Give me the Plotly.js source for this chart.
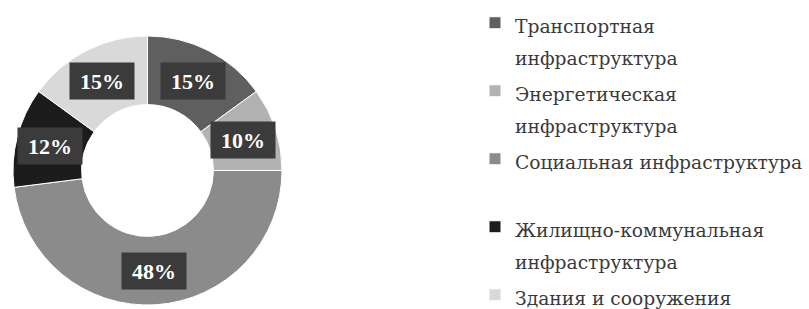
<!DOCTYPE html>
<html>
<head>
<meta charset="utf-8">
<script src="https://cdn.plot.ly/plotly-3.0.1.min.js"></script>
<style>html,body{margin:0;padding:0;background:#fff;}#chart{width:809px;height:309px;}</style>
</head>
<body>
<div id="chart"></div>
<script>
// ---- data ----
const categories = [
  "Транспортная инфраструктура",
  "Энергетическая инфраструктура",
  "Социальная инфраструктура",
  "Жилищно-коммунальная инфраструктура",
  "Здания и сооружения"
];
// legend text lines as wrapped in the original
const legendLines = [
  ["Транспортная", "инфраструктура"],
  ["Энергетическая", "инфраструктура"],
  ["Социальная инфраструктура", " "],
  ["Жилищно-коммунальная", "инфраструктура"],
  ["Здания и сооружения"]
];
const shares = [15, 10, 48, 12, 15];
const colors = ["#5f5f5f", "#b2b2b2", "#8b8b8b", "#1c1c1c", "#d9d9d9"];

// ---- layout constants ----
const W = 809, H = 309;
const domain = {x: [12 / W, 283 / W], y: [4 / H, 273 / H]};
const hole = 0.49;

const legendLabels = legendLines.map(lines =>
  lines.map(l => '<span style="font-size:18.7px">' + l + '</span>').join('<br>'));

// label annotations placed at slice mid-angles (computed from the data)
const total = shares.reduce((a, b) => a + b, 0);
const dW = (domain.x[1] - domain.x[0]) * W, dH = (domain.y[1] - domain.y[0]) * H;
const R = Math.min(dW, dH) / 2;
const cx = (domain.x[0] + domain.x[1]) / 2 * W;
const cy = (1 - (domain.y[0] + domain.y[1]) / 2) * H;
const rl = R * (1 + hole) / 2;
let cum = 0;
const annotations = shares.map((v, i) => {
  const a = (cum + v / 2) / total * 2 * Math.PI;
  cum += v;
  const px = cx + rl * Math.sin(a), py = cy - rl * Math.cos(a);
  return {
    xref: 'paper', yref: 'paper', x: px / W, y: 1 - py / H,
    xanchor: 'center', yanchor: 'middle', showarrow: false,
    text: '<b>' + v + '%</b>',
    font: {family: 'Liberation Serif', size: 22, color: '#ffffff'},
    bgcolor: '#3b3b3b', width: 56, height: 28, borderpad: 4
  };
});

const trace = {
  type: 'pie',
  labels: legendLabels,
  values: shares,
  sort: false,
  direction: 'clockwise',
  rotation: 0,
  hole: hole,
  domain: domain,
  textinfo: 'none',
  hoverinfo: 'none',
  marker: {colors: colors, line: {color: '#ffffff', width: 1}}
};

const layout = {
  width: W, height: H,
  margin: {l: 0, r: 0, t: 0, b: 0, autoexpand: false},
  paper_bgcolor: '#ffffff',
  showlegend: true,
  legend: {
    x: 475 / W, y: 1, xanchor: 'left', yanchor: 'top',
    font: {family: 'DejaVu Serif', size: 25, color: '#3a3a3a'},
    valign: 'top', bgcolor: 'rgba(0,0,0,0)', borderwidth: 0,
    traceorder: 'normal', maxheight: 1000
  },
  annotations: annotations
};

Plotly.newPlot('chart', [trace], layout, {displayModeBar: false, staticPlot: true});
</script>
</body>
</html>
